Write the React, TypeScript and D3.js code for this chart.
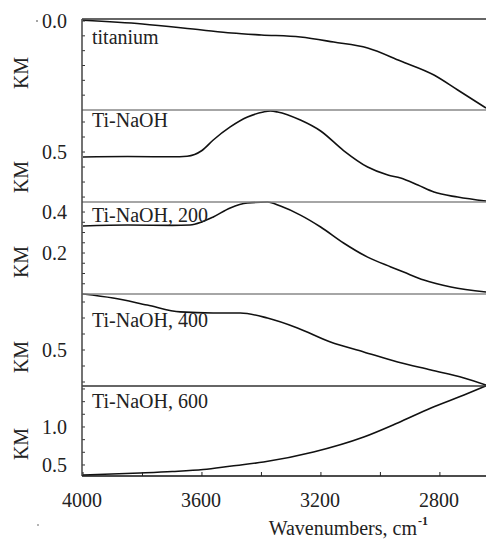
import React from "react";
import * as d3 from "d3";

// wavenumbers (cm-1) and KM values
const tiWn = [4000, 3800, 3600, 3500, 3400, 3269, 3157, 3043, 2932, 2820, 2740, 2645];
const tiKm = [0.005, -0.02, -0.061, -0.081, -0.094, -0.108, -0.142, -0.182, -0.27, -0.364, -0.465, -0.587];

const naohWn = [4000, 3850, 3700, 3650, 3600, 3562, 3505, 3447, 3393, 3370, 3346, 3269, 3201, 3124, 3043, 2975, 2932, 2874, 2820, 2740, 2645];
const naohKm = [0.467, 0.47, 0.468, 0.472, 0.51, 0.58, 0.667, 0.733, 0.767, 0.773, 0.767, 0.713, 0.64, 0.51, 0.4, 0.347, 0.327, 0.28, 0.233, 0.2, 0.173];

const n200Wn = [4000, 3850, 3700, 3640, 3600, 3562, 3505, 3447, 3380, 3336, 3269, 3201, 3124, 3043, 2965, 2922, 2854, 2763, 2645];
const n200Km = [0.332, 0.337, 0.335, 0.337, 0.352, 0.376, 0.42, 0.444, 0.449, 0.429, 0.385, 0.327, 0.249, 0.18, 0.132, 0.107, 0.068, 0.034, 0.01];

const n400Wn = [4000, 3899, 3784, 3673, 3562, 3471, 3380, 3279, 3168, 3056, 2942, 2830, 2719, 2645];
const n400Km = [0.85, 0.825, 0.781, 0.738, 0.731, 0.731, 0.7, 0.638, 0.55, 0.488, 0.425, 0.375, 0.325, 0.281];

const n600Wn = [4000, 3808, 3700, 3596, 3500, 3393, 3225, 3056, 2942, 2830, 2719, 2645];
const n600Km = [0.368, 0.395, 0.414, 0.44, 0.487, 0.539, 0.671, 0.868, 1.053, 1.25, 1.421, 1.54];

const panelNames = ["titanium", "Ti-NaOH", "Ti-NaOH, 200", "Ti-NaOH, 400", "Ti-NaOH, 600"];
const panelDomains: [number, number][] = [
  [-0.6, 0.0135],
  [0.167, 0.78],
  [0, 0.449],
  [0.275, 0.85],
  [0.355, 1.539],
];
const panelTickLabels = [[0.0], [0.5], [0.2, 0.4], [0.5], [0.5, 1.0]];
const panelMinorTicks = [
  [0, -0.1, -0.2, -0.3, -0.4, -0.5],
  [0.2, 0.3, 0.4, 0.5, 0.6, 0.7],
  [0.05, 0.1, 0.15, 0.2, 0.25, 0.3, 0.35, 0.4],
  [0.3, 0.4, 0.5, 0.6, 0.7, 0.8],
  [0.5, 0.667, 0.833, 1.0, 1.167, 1.333, 1.5],
];
const xTicks = [4000, 3800, 3600, 3400, 3200, 3000, 2800];
const xTickLabels = [4000, 3600, 3200, 2800];

const series = [
  { wn: tiWn, km: tiKm },
  { wn: naohWn, km: naohKm },
  { wn: n200Wn, km: n200Km },
  { wn: n400Wn, km: n400Km },
  { wn: n600Wn, km: n600Km },
];

const W = 486;
const H = 539;
const left = 82;
const right = 486;
const panelEdges = [19, 110, 202, 294, 386, 476];
const labelOffsets = [25, 17, 20, 33, 22];
const kmCenters = [73, 177, 262, 357, 444];
const font = "'Liberation Serif', 'DejaVu Serif', serif";
const fs = 20;

export default function App() {
  const x = d3.scaleLinear().domain([4000, 2645]).range([left + 1, right]);

  const fmt = (v: number) => d3.format(".1f")(v);

  return (
    <svg
      width={W}
      height={H}
      style={{ position: "fixed", left: 0, top: 0, background: "#fff", fontFamily: font }}
    >
      {series.map((s, i) => {
        const y0 = panelEdges[i];
        const y1 = panelEdges[i + 1];
        const y = d3.scaleLinear().domain(panelDomains[i]).range([y1, y0]);
        const pts = s.wn.map((w, j) => [x(w), y(s.km[j])] as [number, number]);
        const line = d3.line().curve(d3.curveMonotoneX);
        return (
          <g key={i}>
            <path d={line(pts) || ""} fill="none" stroke="#111" strokeWidth={1.6} />
            {panelMinorTicks[i].map((t) => (
              <line key={t} x1={left} x2={left + 3} y1={y(t)} y2={y(t)} stroke="#333" strokeWidth={1} />
            ))}
            {panelTickLabels[i].map((t) => (
              <text key={t} x={67} y={y(t)} dy="0.35em" textAnchor="end" fontSize={fs} fill="#222">
                {fmt(t)}
              </text>
            ))}
            <text
              transform={`translate(28,${kmCenters[i]}) rotate(-90)`}
              textAnchor="middle"
              fontSize={fs}
              fill="#222"
            >
              KM
            </text>
            <text x={92} y={y0 + labelOffsets[i]} fontSize={fs} fill="#222">
              {panelNames[i]}
            </text>
          </g>
        );
      })}

      {/* panel separators */}
      {panelEdges.slice(1, 5).map((e, i) => (
        <line key={e} x1={left} x2={right} y1={e} y2={e} stroke={i === 3 ? "#333" : "#888"} strokeWidth={1.5} />
      ))}
      <line x1={left} x2={right} y1={panelEdges[0]} y2={panelEdges[0]} stroke="#333" strokeWidth={1.5} />

      {/* axes */}
      <line x1={left} x2={left} y1={panelEdges[0]} y2={panelEdges[5]} stroke="#444" strokeWidth={1.5} />
      <line x1={left} x2={right} y1={panelEdges[5]} y2={panelEdges[5]} stroke="#111" strokeWidth={1.5} />
      {xTicks.map((t) => (
        <line key={t} x1={x(t)} x2={x(t)} y1={panelEdges[5]} y2={panelEdges[5] - 4} stroke="#222" strokeWidth={1} />
      ))}
      {xTickLabels.map((t) => (
        <text key={t} x={x(t) - 1} y={507} textAnchor="middle" fontSize={fs} fill="#222">
          {t}
        </text>
      ))}
      <text x={417} y={535} textAnchor="end" fontSize={fs} fill="#222">
        Wavenumbers, cm
      </text>
      <text x={418} y={525} fontSize={12} fontWeight="bold" fill="#222">
        -1
      </text>

      {/* small specks in the original */}
      <circle cx={37} cy={21} r={0.8} fill="#333" />
      <circle cx={38} cy={525} r={0.7} fill="#333" />
    </svg>
  );
}
